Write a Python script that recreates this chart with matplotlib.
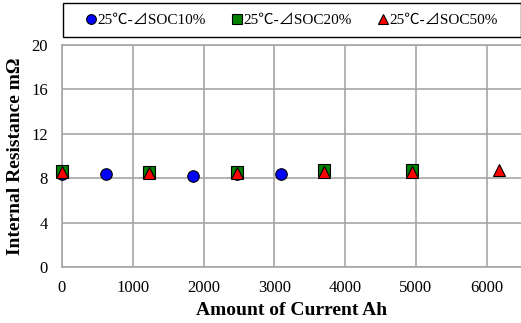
import matplotlib
matplotlib.use("Agg")
import matplotlib.pyplot as plt
from matplotlib.patches import Rectangle
from matplotlib.lines import Line2D

plt.rcParams['font.family'] = ['Liberation Serif', 'Noto Sans CJK JP', 'DejaVu Sans']

# Data
soc10_x = [0, 618, 1236, 1854, 2472, 3090]
soc10_y = [8.4, 8.35, 8.5, 8.2, 8.4, 8.35]
soc20_x = [0, 1236, 2472, 3708, 4944]
soc20_y = [8.65, 8.6, 8.6, 8.7, 8.7]
soc50_x = [0, 1236, 2472, 3708, 4944, 6180]
soc50_y = [8.6, 8.45, 8.5, 8.6, 8.55, 8.75]
labels = ["25℃-⊿SOC10%", "25℃-⊿SOC20%", "25℃-⊿SOC50%"]
xticks = [0, 1000, 2000, 3000, 4000, 5000, 6000]
yticks = [0, 4, 8, 12, 16, 20]

W, H = 521, 323
fig = plt.figure(figsize=(W/100, H/100), dpi=100)
ax = fig.add_axes([62/W, (H-267)/H, (522-62)/W, 222/H])

ax.plot(soc10_x, soc10_y, 'o', color='blue', mec='black', mew=0.8, ms=8.3, zorder=3, clip_on=False)
ax.plot(soc20_x, soc20_y, 's', color='#008000', mec='black', mew=0.8, ms=8.5, zorder=4, clip_on=False)
ax.plot(soc50_x, soc50_y, '^', color='red', mec='black', mew=0.8, ms=9, zorder=5, clip_on=False)

ax.set_xlim(0, 6500)
ax.set_ylim(0, 20)
ax.set_xticks(xticks)
ax.set_yticks(yticks)
ax.grid(True, color='#a6a6a6', lw=1.2)
ax.set_axisbelow(True)
for s in ax.spines.values():
    s.set_color('#a6a6a6')
    s.set_linewidth(1.2)
ax.spines['right'].set_visible(False)
ax.tick_params(axis='y', length=0, labelsize=12, pad=10)
ax.tick_params(axis='x', length=0, labelsize=12, pad=9)
ax.set_xlabel("Amount of Current Ah", fontsize=14, fontweight='bold', labelpad=5)
ax.set_ylabel("Internal Resistance mΩ", fontsize=14, fontweight='bold', labelpad=5)

# Legend box
fig.patches.append(Rectangle((63/W, (H-37)/H), (521-63)/W, 34/H, transform=fig.transFigure,
                             fill=False, edgecolor='black', lw=1.0))
handles = [
    Line2D([], [], ls='none', marker='o', color='blue', mec='black', mew=0.8, ms=7),
    Line2D([], [], ls='none', marker='s', color='#008000', mec='black', mew=0.8, ms=7),
    Line2D([], [], ls='none', marker='^', color='red', mec='black', mew=0.8, ms=7),
]
fig.legend(handles, labels, loc='center', bbox_to_anchor=(292/W, (H-20)/H), ncol=3,
           frameon=False, fontsize=11, handlelength=0.6, handletextpad=0.1,
           columnspacing=1.75, borderaxespad=0)

fig.savefig("out.png", dpi=100)
